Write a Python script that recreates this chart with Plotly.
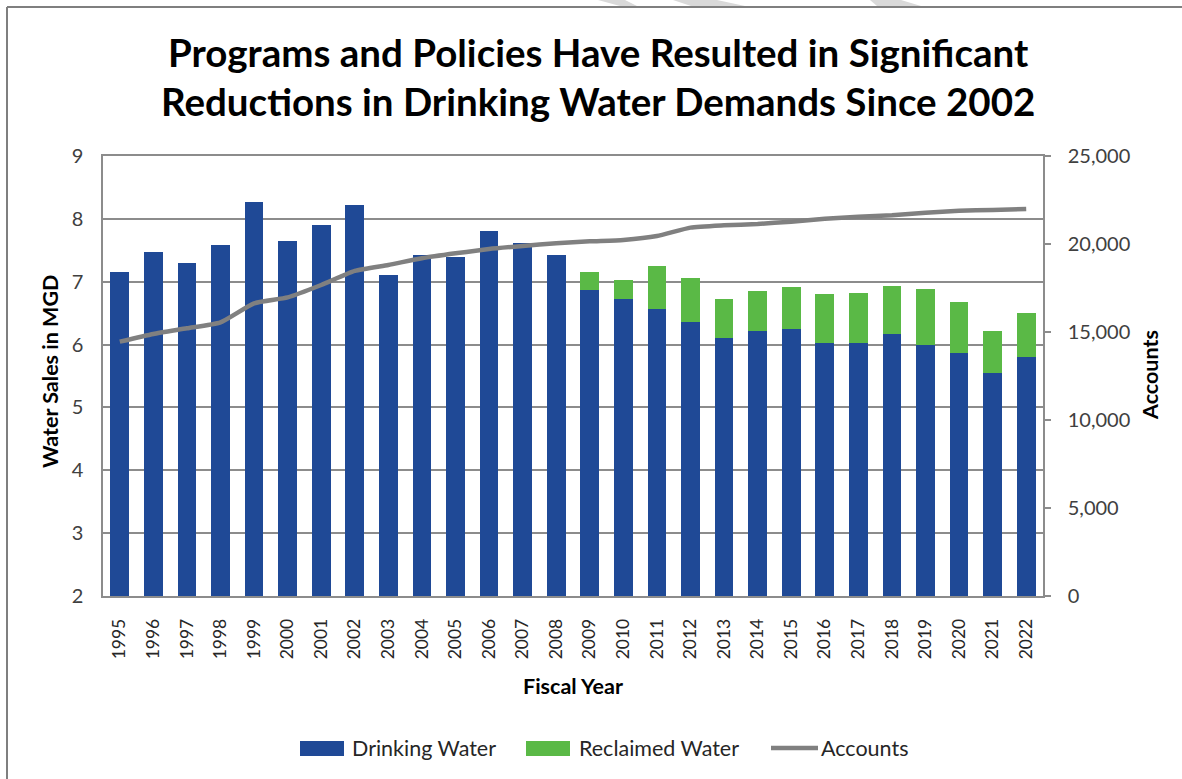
import plotly.graph_objects as go

# Fiscal years and water sales (MGD)
years = [str(y) for y in range(1995, 2023)]
drinking_water = [7.15, 7.47, 7.29, 7.58, 8.27, 7.65, 7.90, 8.22, 7.10, 7.42,
                  7.39, 7.80, 7.61, 7.42, 6.87, 6.73, 6.57, 6.36, 6.11, 6.22,
                  6.24, 6.03, 6.03, 6.17, 5.99, 5.87, 5.55, 5.81]
reclaimed_water = [0, 0, 0, 0, 0, 0, 0, 0, 0, 0,
                   0, 0, 0, 0, 0.29, 0.30, 0.68, 0.70, 0.62, 0.63,
                   0.67, 0.78, 0.79, 0.76, 0.90, 0.81, 0.67, 0.69]
accounts = [14450, 14890, 15210, 15550, 16630, 16970, 17670, 18470, 18810, 19190,
            19470, 19720, 19890, 20040, 20150, 20230, 20450, 20930, 21060, 21140,
            21270, 21440, 21550, 21630, 21780, 21890, 21930, 21990]

BLUE = "#1F4996"
GREEN = "#5AB946"
GRAY_LINE = "#808080"
GRID = "#8C8C8C"
FONT = "Lato"

W, H = 1182, 779
L, R, T, B = 103, 1043, 156, 596  # plot area in pixels


def px(x):
    return (x - L) / (R - L)


def py(y):
    return (B - y) / (B - T)


fig = go.Figure()
fig.add_trace(go.Bar(x=years, y=drinking_water, name="Drinking Water",
                     marker=dict(color=BLUE, line=dict(width=0)), yaxis="y"))
fig.add_trace(go.Bar(x=years, y=reclaimed_water, name="Reclaimed Water",
                     marker=dict(color=GREEN, line=dict(width=0)), yaxis="y"))
fig.add_trace(go.Scatter(x=years, y=accounts, name="Accounts", mode="lines",
                         line=dict(color=GRAY_LINE, width=4.5, shape="spline", smoothing=0.5),
                         yaxis="y2"))

fig.update_layout(
    width=W, height=H,
    margin=dict(l=L, r=W - R, t=T, b=H - B, pad=0),
    paper_bgcolor="white", plot_bgcolor="white",
    barmode="stack", bargap=0.44,
    showlegend=False,
    font=dict(family=FONT, color="#404040", size=18),
    xaxis=dict(
        type="category", tickangle=-90,
        showline=True, linecolor=GRID, linewidth=1.5, mirror=True,
        ticks="outside", ticklen=8, tickcolor="rgba(0,0,0,0)",
        ticklabelstandoff=6,
        tickfont=dict(size=17.5, color="#262626"),
        showgrid=False,
    ),
    yaxis=dict(
        range=[2, 9], dtick=1,
        showline=True, linecolor=GRID, linewidth=1.5,
        showgrid=True, gridcolor=GRID, gridwidth=1.5,
        ticks="", ticklabelstandoff=14,
        tickfont=dict(size=20, color="#404040"),
        zeroline=False,
    ),
    yaxis2=dict(
        range=[0, 25000], dtick=5000, tickformat=",",
        overlaying="y", side="right",
        showline=True, linecolor=GRID, linewidth=1.5,
        showgrid=False, zeroline=False,
        ticks="outside", ticklen=6, tickcolor=GRID, tickwidth=1.5,
        ticklabelstandoff=13,
        tickfont=dict(size=20, color="#404040"),
    ),
)

annotations = [
    dict(text="<b>Programs and Policies Have Resulted in Significant</b>",
         x=px(598), y=py(52), font=dict(size=38.5, color="black")),
    dict(text="<b>Reductions in Drinking Water Demands Since 2002</b>",
         x=px(598), y=py(101), font=dict(size=38.5, color="black")),
    dict(text="<b>Water Sales in MGD</b>", x=px(50), y=py(372), textangle=-90,
         font=dict(size=21.5, color="black")),
    dict(text="<b>Accounts</b>", x=px(1150), y=py(375), textangle=-90,
         font=dict(size=21.5, color="black")),
    dict(text="<b>Fiscal Year</b>", x=px(573), y=py(686),
         font=dict(size=21.5, color="black")),
]

# Legend entries: swatch and label
legend_items = [
    ("Drinking Water", "rect", BLUE, 300, 344, 350),
    ("Reclaimed Water", "rect", GREEN, 526, 570, 577),
    ("Accounts", "line", GRAY_LINE, 771, 818, 819),
]
shapes = []
LEG_Y = 748
for label, kind, color, x0, x1, tx in legend_items:
    if kind == "rect":
        shapes.append(dict(type="rect", xref="paper", yref="paper",
                           x0=px(x0), x1=px(x1), y0=py(LEG_Y - 7), y1=py(LEG_Y + 8),
                           fillcolor=color, line=dict(width=0)))
    else:
        shapes.append(dict(type="line", xref="paper", yref="paper",
                           x0=px(x0), x1=px(x1), y0=py(LEG_Y), y1=py(LEG_Y),
                           line=dict(color=color, width=4.5)))
    annotations.append(dict(text=label, x=px(tx), y=py(LEG_Y), xanchor="left",
                            font=dict(size=21.5, color="#262626")))

for a in annotations:
    a.setdefault("xref", "paper")
    a.setdefault("yref", "paper")
    a.setdefault("showarrow", False)
    a.setdefault("xanchor", "center")
    a.setdefault("yanchor", "middle")

# Outer frame (left and top edges)
shapes.append(dict(type="line", xref="paper", yref="paper",
                   x0=px(7), x1=px(7), y0=py(7), y1=py(H + 5),
                   line=dict(color="#7F7F7F", width=2)))
shapes.append(dict(type="line", xref="paper", yref="paper",
                   x0=px(7), x1=px(W + 5), y0=py(7), y1=py(7),
                   line=dict(color="#7F7F7F", width=2)))

# Faint watermark strokes above the frame
for (a0, a1, b0, b1) in [(598, 625, 620, 637), (673, 717, 691, 745), (870, 901, 877, 921)]:
    path = "M {} {} L {} {} L {} {} L {} {} Z".format(
        px(a0), py(0), px(a1), py(0), px(b1), py(6), px(b0), py(6))
    shapes.append(dict(type="path", xref="paper", yref="paper", path=path,
                       fillcolor="#D9D9D9", line=dict(width=0), layer="below"))

fig.update_layout(annotations=annotations, shapes=shapes)
fig.write_html("out.html")
